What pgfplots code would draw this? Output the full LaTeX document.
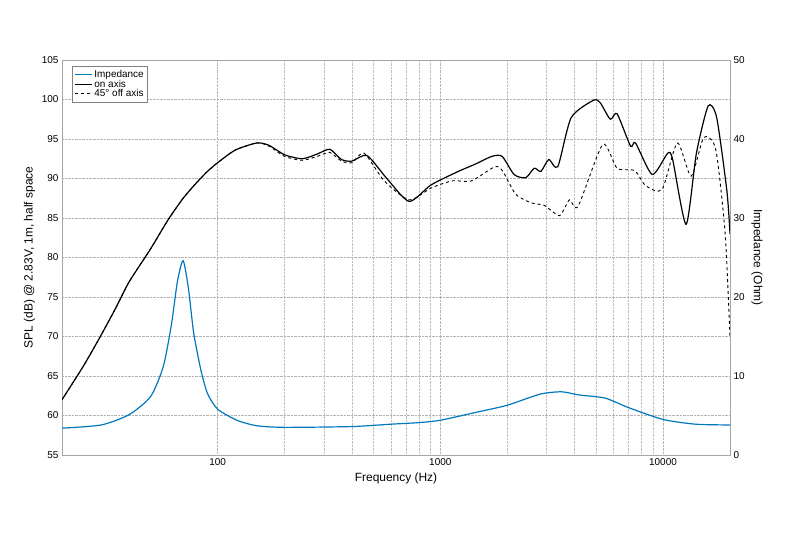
\documentclass[border=0pt]{standalone}
\usepackage{pgfplots}
\pgfplotsset{compat=1.18}
\usepackage{fontspec}
\setmainfont{Liberation Sans}
\definecolor{imp}{RGB}{0,120,190}
\begin{document}
\begin{tikzpicture}
\path[use as bounding box] (-62bp,-79bp) rectangle (738bp,455bp);
\begin{axis}[name=main, at={(0,0)}, anchor=south west,
  width=668bp, height=395bp, scale only axis,
  xmode=log, xmin=20, xmax=20000, ymin=55, ymax=105,
  ytick={55,60,...,105},
  xtick={100,1000,10000}, xticklabels={100,1000,10000},
  grid=both, major grid style={gray!60,densely dotted}, minor grid style={gray!50,densely dotted},
  axis line style={gray!70},
  tick style={draw=none},
  tick label style={font=\normalsize},
  /pgf/number format/assume math mode=true,
  xlabel={Frequency (Hz)}, ylabel={SPL (dB) @ 2.83V, 1m, half space},
  label style={font=\large},
  legend style={at={(0.015,0.985)},anchor=north west,font=\normalsize,draw=gray,row sep=-3pt,inner sep=2pt},
  legend cell align=left,
]
\addlegendimage{imp,line width=1.2pt}\addlegendentry{Impedance}
\addplot[black,line width=1.2pt,smooth,tension=0.4] coordinates {(20,62)(25,66.3)(30,70.2)(35,73.7)(40,76.9)(50,81.1)(60,84.8)(70,87.5)(80,89.4)(90,90.9)(100,92)(120,93.6)(150,94.5)(170,94.2)(200,93)(240,92.5)(280,93.1)(319,93.7)(360,92.4)(401,92.2)(469,92.9)(579,89.9)(725,87.1)(910,89.2)(1205,90.9)(1431,91.8)(1704,92.8)(1896,92.8)(2145,90.5)(2420,90.1)(2640,91.3)(2830,90.9)(3070,92.4)(3370,91.5)(3870,97.7)(4870,99.9)(5220,99.6)(5800,97.5)(6220,98.2)(7150,94.1)(7530,94.5)(8950,90.5)(10500,93.2)(11050,92.4)(12700,84.2)(14130,93.2)(15960,99.2)(17430,97.7)(19370,88.4)(20000,83)};
\addlegendentry{on axis}
\addplot[black,dashed,line width=0.9pt,smooth,tension=0.4] coordinates {(20,62)(25,66.3)(30,70.2)(35,73.7)(40,76.9)(50,81.1)(60,84.8)(70,87.5)(80,89.4)(90,90.9)(100,92)(120,93.6)(150,94.5)(170,94.1)(200,92.8)(240,92.3)(280,92.8)(319,93.3)(360,92.2)(401,92)(455,93.2)(560,89.7)(725,87.3)(910,88.8)(1130,89.7)(1380,89.7)(1760,91.5)(1910,90.9)(2180,88)(2570,86.9)(2930,86.6)(3430,85.3)(3800,87.3)(4160,86.5)(5360,94.3)(6220,91.3)(7460,91)(8360,89.1)(9900,88.6)(11600,94.5)(13380,90.3)(15250,95.2)(17250,93.7)(19000,83.2)(20000,70)};
\addlegendentry{45° off axis}
\end{axis}
\begin{axis}[at={(0,0)}, anchor=south west,
  width=668bp, height=395bp, scale only axis,
  xmode=log, xmin=20, xmax=20000, ymin=0, ymax=50,
  axis y line*=right, axis x line=none,
  ytick={0,10,...,50}, tick style={draw=none},
  tick label style={font=\normalsize},
  /pgf/number format/assume math mode=true,
  ylabel={Impedance (Ohm)}, ylabel style={rotate=180,font=\large},
  axis line style={gray!70},
]
\addplot[imp,line width=1.2pt,smooth,tension=0.4] coordinates {(20,3.4)(30,3.8)(40,5.1)(50,7.4)(57,11.2)(62,16.5)(66,22)(70,24.6)(74,21)(78,15.5)(84,10.8)(90,7.8)(100,5.8)(122,4.4)(150,3.7)(200,3.5)(400,3.6)(600,3.9)(800,4.1)(1000,4.4)(1500,5.5)(2000,6.3)(2800,7.7)(3500,8)(4200,7.6)(5500,7.2)(7000,6)(10000,4.5)(14000,3.9)(20000,3.8)};
\end{axis}
\end{tikzpicture}
\end{document}
